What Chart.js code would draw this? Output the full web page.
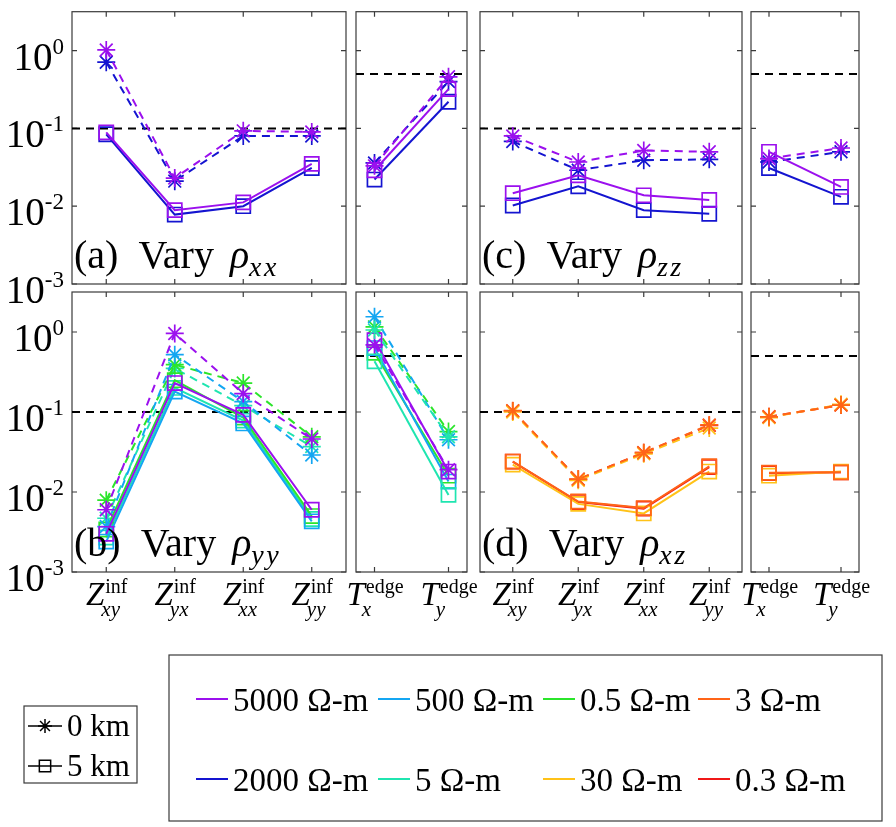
<!DOCTYPE html>
<html>
<head>
<meta charset="utf-8">
<script src="https://cdn.jsdelivr.net/npm/chart.js@4.4.1/dist/chart.umd.min.js"></script>
<style>
  body { margin: 0; background: #fff; }
  #wrap { position: relative; width: 896px; height: 827px; }
  #wrap canvas { position: absolute; left: 0; top: 0; }
  .pre { position: absolute; left: -500px; top: 0; font-family: "Liberation Serif"; }
</style>
</head>
<body>
<span class="pre">10 Vary</span><span class="pre" style="font-style:italic">Z ρ</span>
<div id="wrap"></div>
<script>
// categories and tick labels
const zCats = ["xy", "yx", "xx", "yy"];
const tCats = ["x", "y"];
const yTickExp = ["0", "-1", "-2", "-3"];
const zLimit = 0.1;
const tLimit = 0.5;

// (a) vary rho_xx : 0 km (dashed, star) and 5 km (solid, square)
const aZ0_5000 = [1.02, 0.023, 0.093, 0.090];
const aZ0_2000 = [0.71, 0.021, 0.080, 0.080];
const aZ5_5000 = [0.089, 0.0089, 0.0112, 0.035];
const aZ5_2000 = [0.084, 0.0078, 0.0100, 0.031];
const aT0_5000 = [0.033, 0.46];
const aT0_2000 = [0.036, 0.40];
const aT5_5000 = [0.029, 0.32];
const aT5_2000 = [0.022, 0.22];

// (b) vary rho_yy
const bZ0_5000 = [0.0060, 0.96, 0.17, 0.046];
const bZ0_500 = [0.0037, 0.52, 0.135, 0.029];
const bZ0_05 = [0.0079, 0.39, 0.23, 0.049];
const bZ0_5 = [0.0047, 0.35, 0.12, 0.037];
const bZ5_5000 = [0.0030, 0.23, 0.092, 0.0060];
const bZ5_500 = [0.0024, 0.18, 0.072, 0.0043];
const bZ5_05 = [0.0034, 0.25, 0.085, 0.0050];
const bZ5_5 = [0.0027, 0.20, 0.078, 0.0046];
const bT0_5000 = [0.69, 0.019];
const bT0_500 = [1.55, 0.045];
const bT0_05 = [1.16, 0.057];
const bT0_5 = [1.06, 0.049];
const bT5_5000 = [0.79, 0.018];
const bT5_500 = [0.63, 0.0135];
const bT5_05 = [0.55, 0.016];
const bT5_5 = [0.43, 0.0092];

// (c) vary rho_zz
const cZ0_5000 = [0.080, 0.037, 0.052, 0.050];
const cZ0_2000 = [0.068, 0.029, 0.039, 0.040];
const cZ5_5000 = [0.0147, 0.025, 0.0138, 0.012];
const cZ5_2000 = [0.0102, 0.018, 0.0089, 0.0080];
const cT0_5000 = [0.041, 0.056];
const cT0_2000 = [0.037, 0.050];
const cT5_5000 = [0.050, 0.0177];
const cT5_2000 = [0.031, 0.0132];

// (d) vary rho_xz
const dZ0_3 = [0.104, 0.0145, 0.031, 0.069];
const dZ0_30 = [0.100, 0.0140, 0.030, 0.063];
const dZ0_03 = [0.103, 0.0144, 0.031, 0.068];
const dZ5_3 = [0.024, 0.0076, 0.0063, 0.021];
const dZ5_30 = [0.022, 0.0071, 0.0054, 0.018];
const dZ5_03 = [0.024, 0.0075, 0.0062, 0.0205];
const dT0_3 = [0.087, 0.122];
const dT0_30 = [0.085, 0.125];
const dT0_03 = [0.087, 0.122];
const dT5_3 = [0.0174, 0.0176];
const dT5_30 = [0.016, 0.018];
const dT5_03 = [0.0172, 0.0176];

// legend
const legRow1 = ["5000", "500", "0.5", "3"];
const legRow2 = ["2000", "5", "30", "0.3"];
const depthLabels = ["0 km", "5 km"];

const colors = {
  "5000": "#9B10EE", "2000": "#1414D0", "500": "#14A6F2", "5": "#1FE5B0",
  "0.5": "#2BE52B", "3": "#FF6418", "30": "#FFC218", "0.3": "#F01818"
};

const SERIF = '"Liberation Serif", "Times New Roman", Times, serif';
const W = 896, H = 827;

// layout of the 8 axes boxes
const colA = [72, 346], colAT = [356, 467], colC = [480, 742], colCT = [751, 859];
const rowTop = [4, 284], rowBot = [292, 572];

const panels = [
  { box: [colA, rowTop], cats: zCats, main: "Z", sup: "inf", limit: zLimit, yLab: true, xLab: false, tag: "(a)", rho: "xx",
    sets: [["5000", aZ0_5000, aZ5_5000], ["2000", aZ0_2000, aZ5_2000]] },
  { box: [colAT, rowTop], cats: tCats, main: "T", sup: "edge", limit: tLimit, yLab: false, xLab: false,
    sets: [["5000", aT0_5000, aT5_5000], ["2000", aT0_2000, aT5_2000]] },
  { box: [colC, rowTop], cats: zCats, main: "Z", sup: "inf", limit: zLimit, yLab: false, xLab: false, tag: "(c)", rho: "zz",
    sets: [["5000", cZ0_5000, cZ5_5000], ["2000", cZ0_2000, cZ5_2000]] },
  { box: [colCT, rowTop], cats: tCats, main: "T", sup: "edge", limit: tLimit, yLab: false, xLab: false,
    sets: [["5000", cT0_5000, cT5_5000], ["2000", cT0_2000, cT5_2000]] },
  { box: [colA, rowBot], cats: zCats, main: "Z", sup: "inf", limit: zLimit, yLab: true, xLab: true, tag: "(b)", rho: "yy",
    sets: [["5000", bZ0_5000, bZ5_5000], ["500", bZ0_500, bZ5_500], ["0.5", bZ0_05, bZ5_05], ["5", bZ0_5, bZ5_5]] },
  { box: [colAT, rowBot], cats: tCats, main: "T", sup: "edge", limit: tLimit, yLab: false, xLab: true,
    sets: [["5", bT0_5, bT5_5], ["5000", bT0_5000, bT5_5000], ["500", bT0_500, bT5_500], ["0.5", bT0_05, bT5_05]] },
  { box: [colC, rowBot], cats: zCats, main: "Z", sup: "inf", limit: zLimit, yLab: false, xLab: true, tag: "(d)", rho: "xz",
    sets: [["3", dZ0_3, dZ5_3], ["30", dZ0_30, dZ5_30], ["0.3", dZ0_03, dZ5_03]] },
  { box: [colCT, rowBot], cats: tCats, main: "T", sup: "edge", limit: tLimit, yLab: false, xLab: true,
    sets: [["3", dT0_3, dT5_3], ["30", dT0_30, dT5_30], ["0.3", dT0_03, dT5_03]] }
];

function pts(vals) {
  return vals.map((v, i) => ({ x: i + 1, y: v }));
}

function drawSupSub(ctx, cx, baseY, main, sup, sub) {
  ctx.font = "italic 33px " + SERIF;
  const wm = ctx.measureText(main).width;
  ctx.font = "20px " + SERIF;
  const wsup = ctx.measureText(sup).width;
  ctx.font = "italic 21px " + SERIF;
  const wsub = ctx.measureText(sub).width;
  const x0 = cx - (wm + Math.max(wsup, wsub)) / 2;
  ctx.font = "italic 33px " + SERIF;
  ctx.fillText(main, x0, baseY);
  ctx.font = "20px " + SERIF;
  ctx.fillText(sup, x0 + wm + 1, baseY - 12);
  ctx.font = "italic 21px " + SERIF;
  ctx.fillText(sub, x0 + wm - 3, baseY + 11);
}

const framePlugin = {
  id: "frame",
  beforeDatasetsDraw(chart, args, opts) {
    const { ctx, chartArea: a, scales: { x, y } } = chart;
    ctx.save();
    ctx.strokeStyle = "#3a3a3a";
    ctx.lineWidth = 1.2;
    ctx.strokeRect(a.left, a.top, a.width, a.height);
    ctx.beginPath();
    opts.cats.forEach((c, i) => {
      const px = x.getPixelForValue(i + 1);
      ctx.moveTo(px, a.top); ctx.lineTo(px, a.top + 5);
      ctx.moveTo(px, a.bottom); ctx.lineTo(px, a.bottom - 5);
    });
    yTickExp.forEach(e => {
      const py = y.getPixelForValue(Math.pow(10, +e));
      ctx.moveTo(a.left, py); ctx.lineTo(a.left + 5, py);
      ctx.moveTo(a.right, py); ctx.lineTo(a.right - 5, py);
    });
    ctx.stroke();
    ctx.restore();
  },
  afterDraw(chart, args, opts) {
    const { ctx, chartArea: a, scales: { x, y } } = chart;
    ctx.save();
    ctx.fillStyle = "#000";
    ctx.textBaseline = "alphabetic";
    if (opts.yLab) {
      yTickExp.forEach(e => {
        const py = y.getPixelForValue(Math.pow(10, +e));
        ctx.font = "23px " + SERIF;
        const we = ctx.measureText(e).width;
        ctx.font = "39px " + SERIF;
        const wb = ctx.measureText("10").width;
        const right = a.left - 8;
        ctx.fillText("10", right - we - wb, py + 19);
        ctx.font = "23px " + SERIF;
        ctx.fillText(e, right - we, py + 3);
      });
    }
    if (opts.xLab) {
      opts.cats.forEach((c, i) => {
        drawSupSub(ctx, x.getPixelForValue(i + 1), a.bottom + 33, opts.main, opts.sup, c);
      });
    }
    if (opts.tag) {
      const base = a.bottom - 16;
      let px = a.left + 2;
      ctx.font = "40px " + SERIF;
      ctx.fillText(opts.tag, px, base);
      px += ctx.measureText(opts.tag).width + 20;
      ctx.fillText("Vary", px, base);
      px += ctx.measureText("Vary").width + 16;
      ctx.font = "italic 40px " + SERIF;
      ctx.fillText("\u03c1", px, base);
      px += ctx.measureText("\u03c1").width;
      ctx.font = "italic 28px " + SERIF;
      ctx.fillText(opts.rho.split("").join("\u200a"), px, base + 8);
    }
    ctx.restore();
  }
};

const legendPlugin = {
  id: "figLegend",
  afterDraw(chart) {
    const ctx = chart.ctx;
    ctx.save();
    ctx.strokeStyle = "#3a3a3a";
    ctx.lineWidth = 1.2;
    ctx.strokeRect(169, 655, 713, 166);
    ctx.strokeRect(24, 706, 113, 77);
    ctx.fillStyle = "#000";
    ctx.font = "33px " + SERIF;
    const colX = [196, 378, 543, 698];
    [[legRow1, 699], [legRow2, 779]].forEach(([row, ly]) => {
      row.forEach((r, i) => {
        ctx.strokeStyle = colors[r];
        ctx.lineWidth = 2;
        ctx.beginPath();
        ctx.moveTo(colX[i], ly); ctx.lineTo(colX[i] + 32, ly);
        ctx.stroke();
        ctx.fillText(r + " \u03a9-m", colX[i] + 37, ly + 12);
      });
    });
    // depth legend
    ctx.lineWidth = 1.5;
    ctx.font = "31px " + SERIF;
    depthLabels.forEach((lab, i) => {
      const ly = 726 + i * 40;
      ctx.strokeStyle = "#000";
      ctx.beginPath();
      ctx.moveTo(28, ly); ctx.lineTo(62, ly);
      ctx.stroke();
      ctx.fillStyle = "rgba(0,0,0,0)";
      Chart.helpers.drawPoint(ctx, { pointStyle: i === 0 ? "star" : "rect", radius: i === 0 ? 7 : 8, borderWidth: 1.5 }, 45, ly);
      ctx.fillStyle = "#000";
      ctx.fillText(lab, 67, ly + 10);
    });
    ctx.restore();
  }
};

function build() {
  const wrap = document.getElementById("wrap");
  panels.forEach((p, idx) => {
    const cv = document.createElement("canvas");
    cv.width = W; cv.height = H;
    wrap.appendChild(cv);
    const [[x1, x2], [y1, y2]] = p.box;
    const nCat = p.cats.length;
    const xmin = nCat === 4 ? 0.5 : 0.75;
    const xmax = nCat === 4 ? 4.5 : 2.25;

    const datasets = [];
    p.sets.forEach(([res, v0, v5]) => {
      datasets.push({
        data: pts(v0), borderColor: colors[res], borderWidth: 2, borderDash: [8, 6],
        pointStyle: "star", pointRadius: 9, pointBorderWidth: 1.7,
        pointBorderColor: colors[res], backgroundColor: "rgba(0,0,0,0)"
      });
      datasets.push({
        data: pts(v5), borderColor: colors[res], borderWidth: 2,
        pointStyle: "rect", pointRadius: 10, pointBorderWidth: 1.7,
        pointBorderColor: colors[res], backgroundColor: "rgba(0,0,0,0)"
      });
    });
    datasets.push({
      data: [{ x: xmin, y: p.limit }, { x: xmax, y: p.limit }],
      borderColor: "#000", borderWidth: 2, borderDash: [8, 6], pointRadius: 0
    });

    new Chart(cv, {
      type: "line",
      data: { datasets },
      options: {
        responsive: false,
        animation: false,
        devicePixelRatio: 1,
        layout: { padding: { left: x1, right: W - x2, top: y1, bottom: H - y2 } },
        elements: { line: { tension: 0 } },
        scales: {
          x: { type: "linear", display: false, min: xmin, max: xmax },
          y: { type: "logarithmic", display: false, min: 1e-3, max: Math.pow(10, 0.5) }
        },
        plugins: {
          legend: { display: false },
          tooltip: { enabled: false },
          frame: p
        }
      },
      plugins: idx === panels.length - 1 ? [framePlugin, legendPlugin] : [framePlugin]
    });
  });
}

Promise.all([
  document.fonts.load('40px "Liberation Serif"'),
  document.fonts.load('italic 40px "Liberation Serif"')
]).then(build, build);
</script>
</body>
</html>
